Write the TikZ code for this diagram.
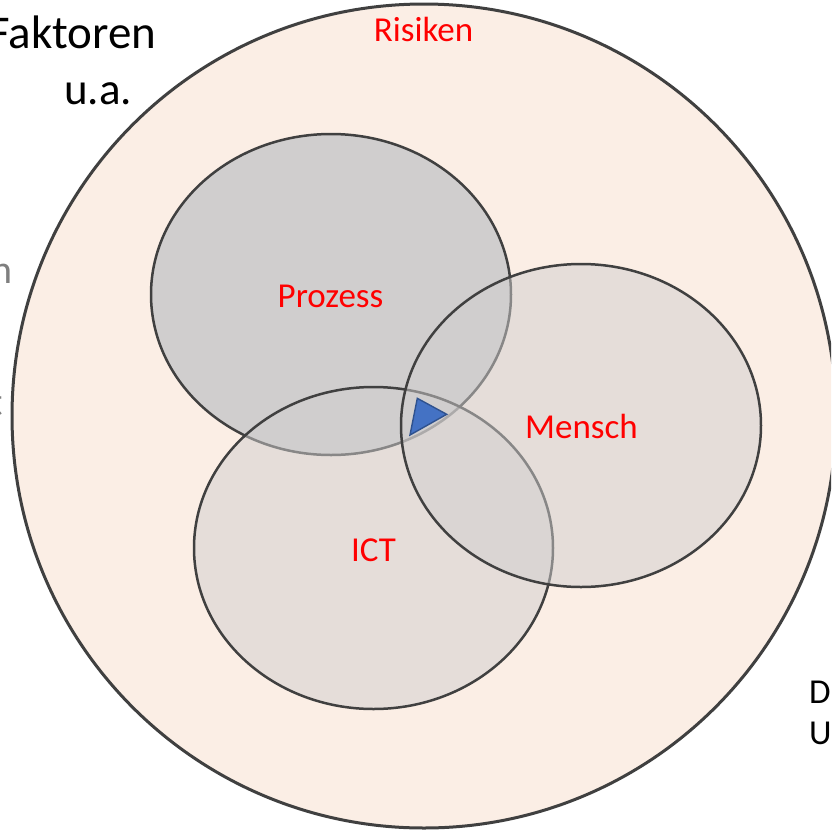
\documentclass[tikz,border=0pt]{standalone}
\usepackage{fontspec}
\setmainfont{Carlito}
\definecolor{peach}{HTML}{FBEEE5}
\definecolor{edge}{HTML}{404040}
\definecolor{setgray}{HTML}{D0CECE}
\definecolor{tri}{HTML}{4472C4}
\definecolor{triedge}{HTML}{2F528F}
\definecolor{labelred}{HTML}{FF0000}
\definecolor{sidegray}{HTML}{7F7F7F}
\begin{document}
\begin{tikzpicture}[x=1pt,y=-1pt,
  outer/.style={draw=edge,line width=3pt,fill=peach},
  solidset/.style={draw=edge,line width=2.5pt,fill=setgray},
  softset/.style={draw=edge,line width=2.5pt,fill=setgray,fill opacity=0.5,draw opacity=1},
  setlabel/.style={text=labelred,font=\fontsize{35}{42}\selectfont,inner sep=0pt,anchor=base},
  bodytext/.style={text=black,inner sep=0pt,anchor=base west},
  sidetext/.style={text=sidegray,font=\fontsize{40}{48}\selectfont,inner sep=0pt,anchor=base east}]
\useasboundingbox (0,0) rectangle (831,831);
\clip (0,0) rectangle (831,831);

% surrounding risk area
\draw[outer] (424,416) circle [radius=412];

% the three sets
\draw[solidset] (331,294.5) ellipse [x radius=180, y radius=160.5];
\draw[softset] (373.5,548) ellipse [x radius=179.5, y radius=161];
\draw[softset] (581,425.5) ellipse [x radius=180, y radius=161.5];

% marker in the common intersection
\draw[fill=tri,draw=triedge,line width=1.4pt,line join=miter]
  (417.3,398.3) -- (446.7,414.3) -- (410,435) -- cycle;

% labels
\node[setlabel] (risiken) at (423.5,41) {Risiken};
\node[setlabel] (prozess) at (330.5,307) {Prozess};
\node[setlabel] (mensch) at (581.5,438) {Mensch};
\node[setlabel] (ict) at (373.5,561) {ICT};

% text running in from the sides
\node[bodytext,font=\fontsize{47}{56}\selectfont] (faktoren) at (-12,48) {Faktoren};
\node[bodytext,font=\fontsize{45}{54}\selectfont] (ua) at (64,104) {u.a.};
\node[sidetext] (sideA) at (13,283) {n};
\node[sidetext] (sideB) at (3,415) {t};
\node[bodytext,font=\fontsize{35}{42}\selectfont] (lineD) at (809,703) {D};
\node[bodytext,font=\fontsize{35}{42}\selectfont] (lineU) at (809,744) {U};
\end{tikzpicture}
\end{document}
